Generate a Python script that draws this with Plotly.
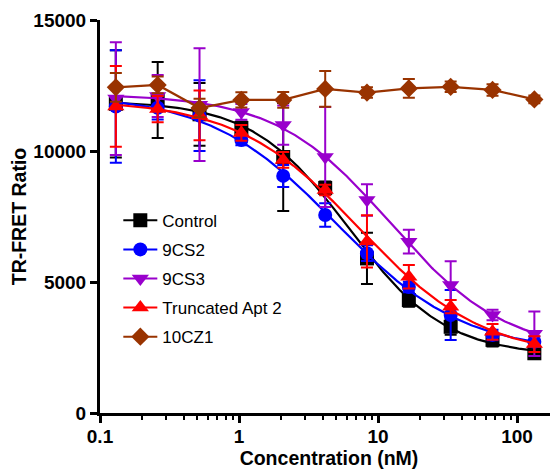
import numpy as np
import plotly.graph_objects as go

# ---------------- data ----------------
conc = [0.13, 0.26, 0.52, 1.04, 2.08, 4.17, 8.33, 16.67, 33.33, 66.67, 133.33]

series_names = ["Control", "9CS2", "9CS3", "Truncated Apt 2", "10CZ1"]

control_mean = [11800, 11950, 11400, 10880, 9770, 8590, 5900, 4310, 3290, 2790, 2280]
control_err = [2050, 1450, 1200, 250, 2060, 250, 980, 250, 300, 250, 200]

cs2_mean = [11700, 11650, 11350, 10420, 9050, 7560, 6100, 4810, 3740, 2980, 2720]
cs2_err = [2150, 450, 1350, 200, 420, 450, 300, 200, 950, 200, 200]

cs3_mean = [12000, 12100, 11770, 11490, 10990, 9770, 8130, 6540, 4890, 3740, 3025]
cs3_err = [2150, 800, 2150, 300, 750, 1910, 600, 450, 900, 200, 845]

trunc_mean = [11700, 11600, 11360, 10690, 9660, 8510, 6550, 5200, 4060, 3100, 2630]
trunc_err = [1540, 500, 950, 300, 300, 200, 1000, 450, 250, 300, 300]

cz1_mean = [12430, 12520, 11640, 11950, 11950, 12370, 12230, 12390, 12450, 12330, 11970]
cz1_err = [550, 320, 350, 290, 300, 680, 200, 360, 200, 220, 150]

x_ticks = [0.1, 1, 10, 100]
x_ticklabels = ["0.1", "1", "10", "100"]
y_ticks = [0, 5000, 10000, 15000]
y_ticklabels = ["0", "5000", "10000", "15000"]

# ---------------- styles ----------------
colors = ["#000000", "#0000FF", "#9900CC", "#FF0000", "#993300"]
symbols = ["square", "circle", "triangle-down", "triangle-up", "diamond"]
msizes = [14, 14, 15, 15, 14]
means = [control_mean, cs2_mean, cs3_mean, trunc_mean, cz1_mean]
errs = [control_err, cs2_err, cs3_err, trunc_err, cz1_err]
fitted = [True, True, True, True, False]
FONT = "Liberation Sans, Arial, sans-serif"


def fit_4pl(x, y):
    """Least-squares four-parameter logistic fit (grid over IC50/Hill, linear top/bottom)."""
    x = np.asarray(x, float)
    y = np.asarray(y, float)
    best = None
    for lic in np.linspace(-1, 2.2, 321):
        for h in np.linspace(0.5, 2.5, 81):
            f = 1.0 / (1.0 + (x / 10 ** lic) ** h)
            A = np.column_stack([1 - f, f])
            coef, *_ = np.linalg.lstsq(A, y, rcond=None)
            r = np.sum((A @ coef - y) ** 2)
            if best is None or r < best[0]:
                best = (r, coef[0], coef[1], 10 ** lic, h)
    _, bottom, top, ic50, h = best
    return bottom, top, ic50, h


fig = go.Figure()
xs = np.logspace(np.log10(conc[0]), np.log10(conc[-1]), 300)

for i, name in enumerate(series_names):
    c = colors[i]
    if fitted[i]:
        b, t, ic, h = fit_4pl(conc, means[i])
        ys = b + (t - b) / (1 + (xs / ic) ** h)
        fig.add_trace(go.Scatter(x=xs, y=ys, mode="lines",
                                 line=dict(color=c, width=2.2),
                                 showlegend=False, hoverinfo="skip"))
        mode = "markers"
    else:
        mode = "lines+markers"
    fig.add_trace(go.Scatter(
        x=conc, y=means[i], mode=mode,
        line=dict(color=c, width=2.2),
        marker=dict(symbol=symbols[i], size=msizes[i], color=c),
        error_y=dict(type="data", array=errs[i], visible=True,
                     color=c, thickness=2, width=6),
        showlegend=False, cliponaxis=False))

# legend-only entries (line + marker like the original key)
for i, name in enumerate(series_names):
    fig.add_trace(go.Scatter(
        x=[None], y=[None], mode="lines+markers", name=name,
        legendgroup=name,
        line=dict(color=colors[i], width=2),
        marker=dict(symbol=symbols[i], size=msizes[i], color=colors[i])))

# the page body has an 8px default margin; compensate so the chart fills 558x475
fig.update_layout(
    width=550, height=467,
    margin=dict(l=92, r=0, t=12, b=62, autoexpand=False),
    paper_bgcolor="white", plot_bgcolor="white",
    font=dict(family=FONT, color="black"),
    legend=dict(x=0.04, y=0.535, xanchor="left", yanchor="top",
                font=dict(family=FONT, size=17, color="black"),
                bgcolor="rgba(0,0,0,0)", traceorder="grouped",
                tracegroupgap=4, itemwidth=34),
    xaxis=dict(
        type="log", range=[-1, 2.295], automargin=False,
        tickvals=x_ticks, ticktext=x_ticklabels,
        showline=True, linewidth=3, linecolor="black",
        ticks="outside", ticklen=7, tickwidth=3, tickcolor="black",
        ticklabelstandoff=-3,
        minor=dict(ticks="outside", ticklen=4, tickwidth=2,
                   tickcolor="black", dtick="D1", showgrid=False),
        showgrid=False, zeroline=False,
        tickfont=dict(family=FONT, size=19, weight="bold"),
        title=dict(text="Concentration (nM)", standoff=4,
                   font=dict(family=FONT, size=19.5, weight="bold")),
    ),
    yaxis=dict(
        range=[0, 15000], automargin=False,
        tickvals=y_ticks, ticktext=y_ticklabels,
        showline=True, linewidth=3, linecolor="black",
        ticks="outside", ticklen=7, tickwidth=3, tickcolor="black",
        showgrid=False, zeroline=False,
        tickfont=dict(family=FONT, size=19, weight="bold"),
        title=dict(text="TR-FRET Ratio", standoff=8,
                   font=dict(family=FONT, size=19.5, weight="bold")),
    ),
)

fig.write_html("out.html")
